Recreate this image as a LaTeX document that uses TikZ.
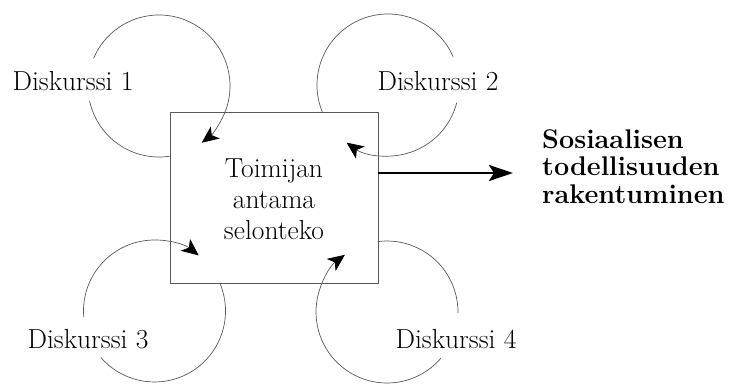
\documentclass[tikz,border=0pt]{standalone}
\usepackage{fontspec}
\usetikzlibrary{arrows.meta}
\begin{document}
\begin{tikzpicture}[x=1pt,y=1pt,
  thinline/.style={draw=black!65, line width=0.7pt},
  loopline/.style={thinline},
  looparrow/.style={thinline, -{Stealth[length=17pt,width=15pt,inset=4.5pt,color=black]}},
  bigarrow/.style={line width=2.8pt, -{Stealth[length=24pt,width=16pt,inset=5pt]}},
  disk/.style={anchor=base, font=\fontsize{27.5}{31}\selectfont, inner sep=0pt},
]
\useasboundingbox (0,0) rectangle (731,-383);
% circle centres
\coordinate (c1) at (159,-86);
\coordinate (c2) at (388,-85);
\coordinate (c3) at (154.5,-311);
\coordinate (c4) at (387,-312);
% central box
\node[thinline, minimum width=208pt, minimum height=170.5pt, inner sep=0pt] (box) at (274,-197.75) {};
\node[anchor=base, align=center, font=\fontsize{27.5}{31}\selectfont, inner sep=0pt] (actor) at (274,-239) {Toimijan\\antama\\selonteko};
% labels
\node[disk] (d1) at (73,-90) {Diskurssi 1};
\node[disk] (d2) at (438,-90) {Diskurssi 2};
\node[disk] (d3) at (88,-348) {Diskurssi 3};
\node[disk] (d4) at (456,-348) {Diskurssi 4};
\node[anchor=base west, align=left, font=\fontsize{27}{27.5}\selectfont\bfseries, inner sep=0pt] (result) at (542,-203) {Sosiaalisen\\todellisuuden\\rakentuminen};
% loops
\draw[loopline] (c1) ++(-81.1:71) arc[start angle=-81.1, end angle=-168, radius=71];
\draw[looparrow] (c1) ++(157:71) arc[start angle=157, end angle=-53, radius=71];
\draw[loopline] (c2) ++(203.2:71) arc[start angle=203.2, end angle=23.5, radius=71];
\draw[looparrow] (c2) ++(-14.4:71) arc[start angle=-14.4, end angle=-125.7, radius=71];
\draw[loopline] (c3) ++(23.2:71) arc[start angle=23.2, end angle=-139.2, radius=71];
\draw[looparrow] (c3) ++(185:71) arc[start angle=185, end angle=51.5, radius=71];
\draw[loopline] (c4) ++(97.3:71) arc[start angle=97.3, end angle=-1, radius=71];
\draw[looparrow] (c4) ++(-40.6:71) arc[start angle=-40.6, end angle=-233.6, radius=71];
% output arrow
\coordinate (tip) at (513,-173);
\draw[bigarrow] (box.east |- tip) -- (tip);
\end{tikzpicture}
\end{document}
